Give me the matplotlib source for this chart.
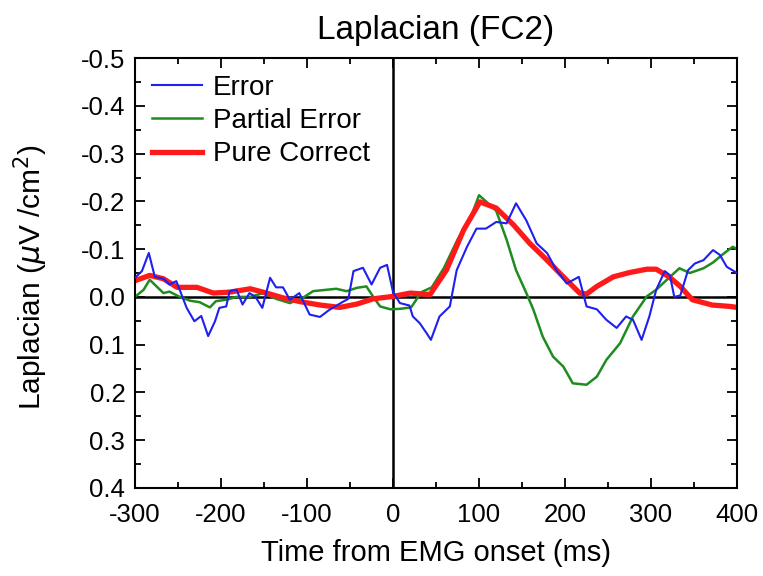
import matplotlib
matplotlib.use("Agg")
import matplotlib.pyplot as plt
from matplotlib.ticker import MultipleLocator

plt.rcParams['font.family'] = ['Liberation Sans', 'DejaVu Sans']
plt.rcParams['axes.unicode_minus'] = False

# Error (blue) - time (ms), Laplacian value
err_t = [-300, -292, -284, -277, -267, -260, -252, -246, -240, -231, -223, -215, -207,
         -202, -194, -190, -182, -175, -167, -160, -152, -143, -136, -128, -120, -109,
         -97, -85, -74, -58, -52, -46, -35, -25, -15, -7, 0, 8, 19, 23, 31, 39, 44, 54,
         66, 74, 86, 97, 108, 120, 132, 143, 155, 167, 179, 190, 202, 216, 225, 237,
         248, 260, 271, 279, 289, 298, 306, 316, 322, 327, 334, 343, 351, 361, 372,
         380, 388, 400]
err_v = [-0.040, -0.054, -0.092, -0.042, -0.038, -0.026, -0.033, -0.005, 0.023, 0.051,
         0.040, 0.082, 0.051, 0.023, 0.020, -0.012, -0.015, 0.016, -0.008, 0.000, 0.023,
         -0.040, -0.020, -0.020, 0.006, -0.008, 0.037, 0.042, 0.027, 0.010, 0.004,
         -0.054, -0.061, -0.026, -0.061, -0.067, -0.010, 0.013, 0.018, 0.041, 0.055,
         0.076, 0.090, 0.041, 0.020, -0.056, -0.105, -0.143, -0.143, -0.157, -0.154,
         -0.196, -0.160, -0.112, -0.092, -0.056, -0.028, -0.042, 0.020, 0.026, 0.048,
         0.065, 0.041, 0.048, 0.090, 0.041, -0.015, -0.054, -0.045, 0.000, -0.003,
         -0.056, -0.070, -0.077, -0.098, -0.088, -0.063, -0.050]

# Partial Error (green)
perr_t = [-300, -290, -283, -275, -267, -260, -248, -236, -225, -213, -206, -194, -182,
          -166, -151, -136, -120, -105, -93, -77, -66, -54, -42, -31, -23, -15, -3, 8,
          21, 33, 45, 59, 75, 91, 100, 108, 120, 132, 143, 155, 163, 174, 186, 198, 209,
          225, 237, 248, 264, 279, 295, 306, 322, 333, 345, 361, 372, 384, 395, 400]
perr_v = [0.000, -0.015, -0.036, -0.022, -0.008, -0.011, 0.000, 0.008, 0.011, 0.022,
          0.009, 0.006, 0.000, 0.000, -0.008, 0.004, 0.013, 0.002, -0.012, -0.015,
          -0.017, -0.012, -0.019, -0.022, 0.000, 0.020, 0.026, 0.025, 0.022, -0.010,
          -0.020, -0.060, -0.120, -0.170, -0.213, -0.200, -0.180, -0.120, -0.056,
          -0.008, 0.026, 0.083, 0.125, 0.146, 0.181, 0.184, 0.167, 0.132, 0.097, 0.041,
          -0.001, -0.015, -0.042, -0.060, -0.050, -0.060, -0.072, -0.090, -0.105,
          -0.100]

# Pure Correct (red)
pc_t = [-300, -283, -267, -251, -228, -209, -190, -166, -147, -128, -108, -85, -62,
        -42, -23, 0, 20, 43, 62, 82, 101, 120, 140, 159, 179, 198, 217, 225, 237, 256,
        275, 295, 306, 321, 334, 348, 371, 392, 400]
pc_v = [-0.034, -0.045, -0.038, -0.020, -0.020, -0.008, -0.010, -0.017, -0.008, 0.002,
        0.010, 0.017, 0.022, 0.015, 0.004, -0.001, -0.008, -0.005, -0.056, -0.140,
        -0.199, -0.186, -0.151, -0.112, -0.077, -0.042, -0.008, -0.006, -0.022,
        -0.042, -0.051, -0.058, -0.058, -0.042, -0.022, 0.006, 0.017, 0.020, 0.022]

fig = plt.figure(figsize=(7.63, 5.76), dpi=100)
ax = fig.add_axes([0.177, 0.153, 0.789, 0.746])

ax.axhline(0, color='black', lw=1.8, zorder=1)
ax.axvline(0, color='black', lw=1.8, zorder=1)

ax.plot(err_t, err_v, color='#1f1fef', lw=1.5, label='Error', zorder=3)
ax.plot(perr_t, perr_v, color='#1e8c1e', lw=1.8, label='Partial Error', zorder=2)
ax.plot(pc_t, pc_v, color='#ff1a1a', lw=3.8, label='Pure Correct', zorder=2.5)

ax.set_xlim(-300, 400)
ax.set_ylim(0.4, -0.5)
ax.xaxis.set_major_locator(MultipleLocator(100))
ax.xaxis.set_minor_locator(MultipleLocator(50))
ax.yaxis.set_major_locator(MultipleLocator(0.1))
ax.yaxis.set_minor_locator(MultipleLocator(0.05))
ax.yaxis.set_major_formatter(plt.FormatStrFormatter('%.1f'))
ax.tick_params(which='both', direction='in', top=True, right=True, width=1.3,
               labelsize=18.5)
ax.tick_params(which='major', length=7)
ax.tick_params(which='minor', length=4)
ax.tick_params(axis='x', which='major', pad=11)
ax.tick_params(axis='y', which='major', pad=7)
for s in ax.spines.values():
    s.set_linewidth(1.5)

ax.set_title('Laplacian (FC2)', fontsize=24, pad=14)
ax.set_xlabel('Time from EMG onset (ms)', fontsize=21)
ax.set_ylabel(r'Laplacian ($\mu$V /cm$^2$)', fontsize=21.5)
ax.xaxis.set_label_coords(0.5, -0.118)
ax.yaxis.set_label_coords(-0.142, 0.49)

ax.legend(loc='upper left', frameon=False, fontsize=20, handlelength=1.8,
          handletextpad=0.4, labelspacing=0.26, borderaxespad=0.3,
          borderpad=0.3)

fig.savefig('out.png', dpi=100)
